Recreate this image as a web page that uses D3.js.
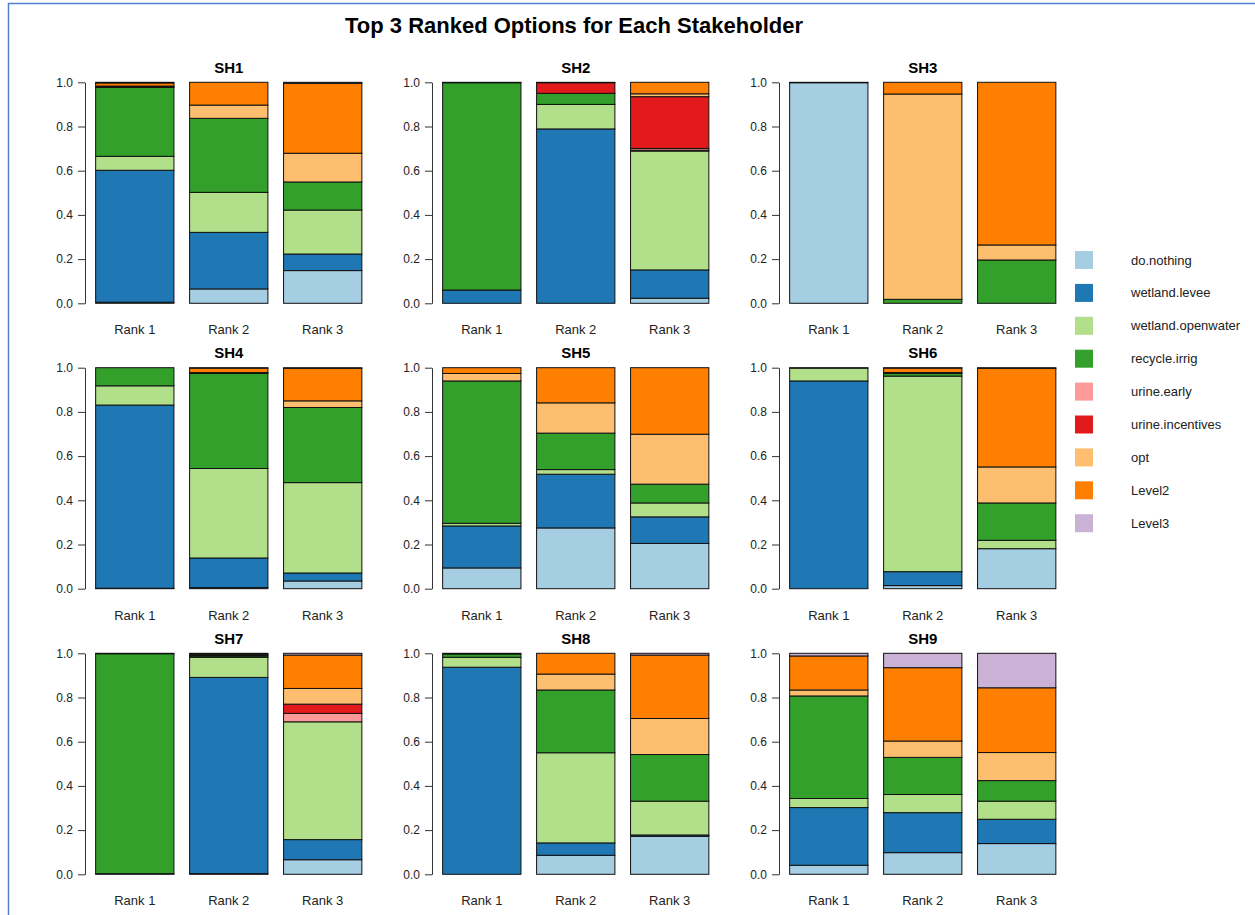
<!DOCTYPE html>
<html>
<head>
<meta charset="utf-8">
<script src="https://cdn.jsdelivr.net/npm/d3@7"></script>
<style>
  body { margin: 0; background: #fff; }
  svg { display: block; font-family: "Liberation Sans", Arial, Helvetica, sans-serif; }
</style>
</head>
<body>
<script>
// options, bottom to top of each stack
const options = ['do.nothing', 'wetland.levee', 'wetland.openwater', 'recycle.irrig',
  'urine.early', 'urine.incentives', 'opt', 'Level2', 'Level3'];
const colors = ['#a6cee3', '#1f78b4', '#b2df8a', '#33a02c', '#fb9a99', '#e31a1c', '#fdbf6f', '#ff7f00', '#cab2d6'];
const ranks = ['Rank 1', 'Rank 2', 'Rank 3'];
const stakeholders = ['SH1', 'SH2', 'SH3', 'SH4', 'SH5', 'SH6', 'SH7', 'SH8', 'SH9'];

// share of each option per rank (rows = Rank 1..3, columns = options)
const sh1 = [[0.005, 0.597, 0.063, 0.312, 0, 0.003, 0.003, 0.014, 0.003],
             [0.065, 0.256, 0.181, 0.335, 0, 0, 0.060, 0.103, 0],
             [0.148, 0.075, 0.199, 0.127, 0, 0, 0.130, 0.316, 0.005]];
const sh2 = [[0, 0.060, 0, 0.938, 0, 0, 0, 0, 0.002],
             [0, 0.789, 0.111, 0.050, 0, 0.048, 0, 0, 0.002],
             [0.023, 0.128, 0.538, 0.004, 0.008, 0.234, 0.013, 0.052, 0]];
const sh3 = [[0.998, 0, 0, 0, 0, 0, 0, 0, 0.002],
             [0, 0, 0, 0.018, 0, 0, 0.929, 0.053, 0],
             [0, 0, 0, 0.196, 0, 0, 0.068, 0.736, 0]];
const sh4 = [[0.002, 0.829, 0.087, 0.082, 0, 0, 0, 0, 0],
             [0.005, 0.134, 0.405, 0.430, 0, 0.004, 0, 0.020, 0.002],
             [0.035, 0.036, 0.409, 0.340, 0, 0, 0.030, 0.147, 0.003]];
const sh5 = [[0.094, 0.190, 0.012, 0.644, 0, 0, 0.034, 0.026, 0],
             [0.275, 0.243, 0.021, 0.165, 0, 0, 0.137, 0.159, 0],
             [0.205, 0.120, 0.063, 0.085, 0, 0, 0.226, 0.301, 0]];
const sh6 = [[0, 0.940, 0.058, 0, 0, 0, 0, 0, 0.002],
             [0.014, 0.063, 0.885, 0.012, 0, 0.004, 0, 0.020, 0.002],
             [0.181, 0, 0.038, 0.169, 0, 0, 0.163, 0.446, 0.003]];
const sh7 = [[0.003, 0, 0, 0.995, 0, 0, 0, 0, 0.002],
             [0.003, 0.888, 0.091, 0.006, 0, 0.004, 0.004, 0.004, 0],
             [0.066, 0.091, 0.533, 0, 0.038, 0.042, 0.071, 0.151, 0.008]];
const sh8 = [[0, 0.937, 0.045, 0.015, 0, 0, 0, 0, 0.003],
             [0.086, 0.056, 0.408, 0.284, 0, 0, 0.072, 0.094, 0],
             [0.172, 0.006, 0.153, 0.211, 0, 0, 0.163, 0.287, 0.008]];
const sh9 = [[0.041, 0.261, 0.041, 0.464, 0, 0, 0.027, 0.154, 0.012],
             [0.098, 0.181, 0.082, 0.168, 0, 0, 0.074, 0.332, 0.065],
             [0.139, 0.110, 0.082, 0.093, 0, 0, 0.127, 0.293, 0.156]];
const yTicks = [0, 0.2, 0.4, 0.6, 0.8, 1.0];

const shares = [sh1, sh2, sh3, sh4, sh5, sh6, sh7, sh8, sh9];

const W = 1255, H = 915;
const panel = { w: 287.5, h: 221 };
const colX = [85, 432, 779];
const rowY = [82.3, 367.7, 653.3];

const color = d3.scaleOrdinal().domain(options).range(colors);

const svg = d3.select('body').append('svg').attr('width', W).attr('height', H);

// screenshot frame (top and left edges show)
svg.append('rect').attr('x', 8.5).attr('y', 3.5).attr('width', 1260).attr('height', 920)
  .attr('fill', 'none').attr('stroke', '#4f7fcf').attr('stroke-width', 1.5);

svg.append('text').attr('x', 574).attr('y', 33).attr('text-anchor', 'middle')
  .attr('font-size', 22).attr('font-weight', 'bold').text('Top 3 Ranked Options for Each Stakeholder');

// barplot-like x positions: bars at 0.2 + i*1.2, width 1
const x = d3.scaleLinear().domain([0.064, 3.736]).range([0, panel.w]);
const y = d3.scaleLinear().domain([0, 1]).range([panel.h, 0]);
const stack = d3.stack().keys(d3.range(options.length));

stakeholders.forEach((name, k) => {
  const g = svg.append('g')
    .attr('transform', `translate(${colX[k % 3]},${rowY[Math.floor(k / 3)]})`);

  const series = stack(shares[k]);
  series.forEach((s, j) => {
    g.selectAll(null).data(s.filter(d => d[1] - d[0] > 0)).enter().append('rect')
      .attr('x', d => x(0.2 + shares[k].indexOf(d.data) * 1.2))
      .attr('width', x(1) - x(0))
      .attr('y', d => y(d[1]))
      .attr('height', d => y(d[0]) - y(d[1]))
      .attr('fill', color(options[j]))
      .attr('stroke', '#111').attr('stroke-width', 1);
  });

  const ax = g.append('g').call(d3.axisLeft(y).tickValues(yTicks).tickSize(7).tickSizeOuter(0)
    .tickFormat(d3.format('.1f')));
  ax.select('.domain').attr('stroke', '#333');
  ax.selectAll('.tick line').attr('stroke', '#333');
  ax.selectAll('.tick text').attr('font-size', 12).attr('fill', '#222')
    .attr('font-family', '"Liberation Sans", Arial, sans-serif').attr('x', -12);

  g.selectAll('.rank').data(ranks).enter().append('text')
    .attr('x', (d, i) => x(0.7 + i * 1.2)).attr('y', panel.h + 31)
    .attr('text-anchor', 'middle').attr('font-size', 13).attr('fill', '#222').text(d => d);

  g.append('text').attr('x', x(1.9)).attr('y', -9.5).attr('text-anchor', 'middle')
    .attr('font-size', 15).attr('font-weight', 'bold').text(name);
});

// legend
const leg = svg.append('g').attr('transform', 'translate(1075,251)');
leg.selectAll('rect').data(options).enter().append('rect')
  .attr('x', 0).attr('y', (d, i) => i * 32.9).attr('width', 18).attr('height', 18)
  .attr('fill', d => color(d));
leg.selectAll('text').data(options).enter().append('text')
  .attr('x', 56).attr('y', (d, i) => i * 32.9 + 13.5)
  .attr('font-size', 13).attr('fill', '#222').text(d => d);
</script>
</body>
</html>
